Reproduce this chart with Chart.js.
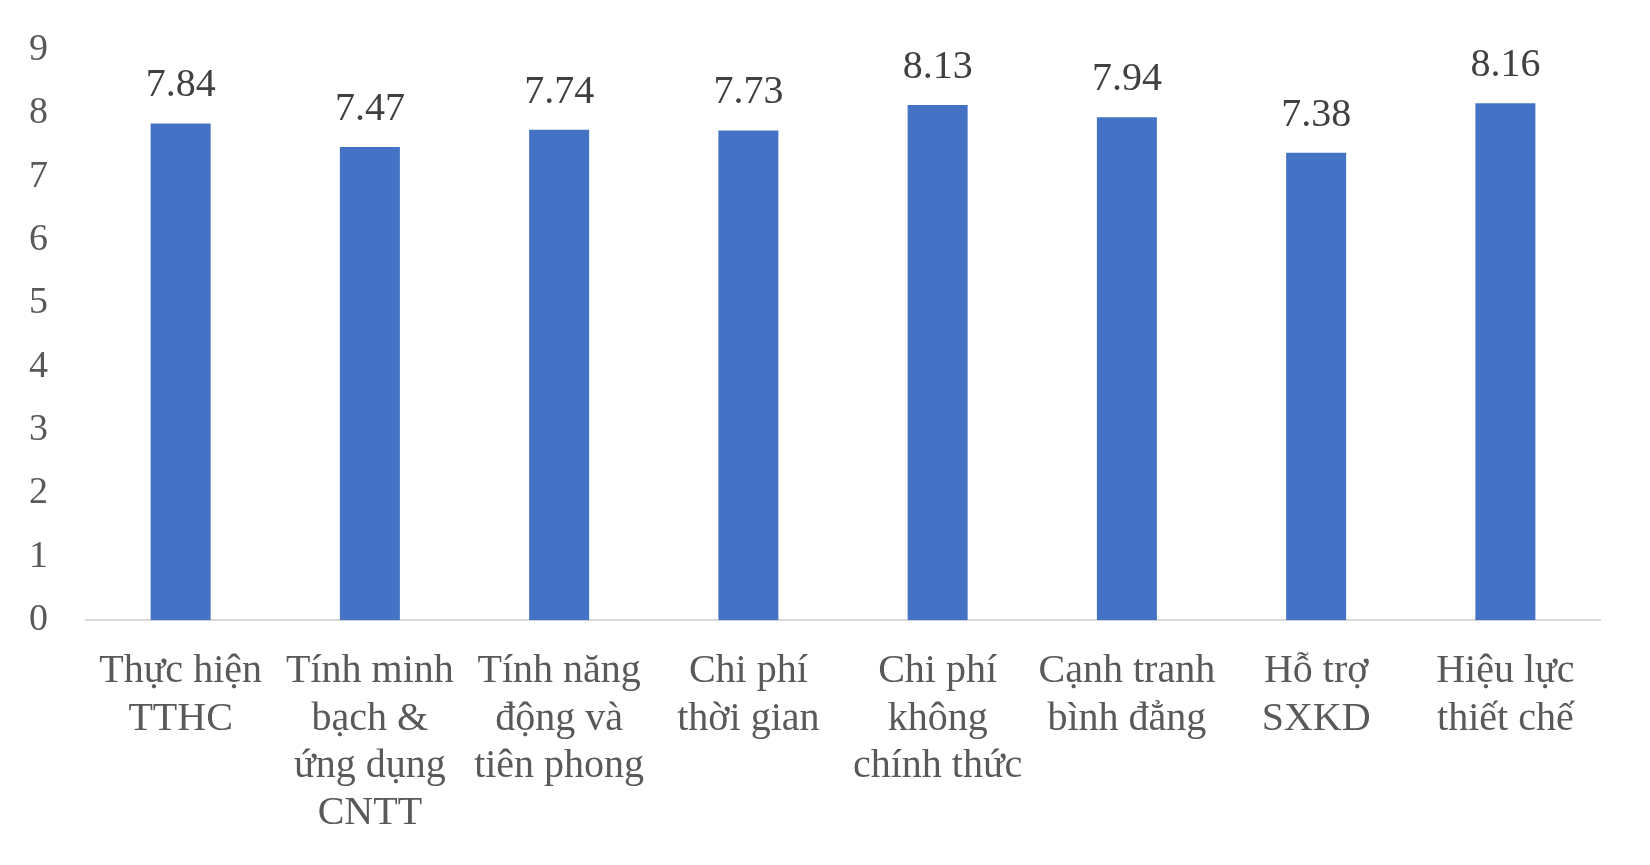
<!DOCTYPE html>
<html>
<head>
<meta charset="utf-8">
<script src="https://cdn.jsdelivr.net/npm/chart.js@4/dist/chart.umd.min.js"></script>
<style>
  html, body { margin: 0; padding: 0; background: #fff; }
  #wrap { width: 1650px; height: 865px; }
</style>
</head>
<body>
<div id="wrap"><canvas id="barchart" width="1650" height="865"></canvas></div>
<script>
// categories (wrapped as in the picture)
const categories = [
  ['Thực hiện', 'TTHC'],
  ['Tính minh', 'bạch &', 'ứng dụng', 'CNTT'],
  ['Tính năng', 'động và', 'tiên phong'],
  ['Chi phí', 'thời gian'],
  ['Chi phí', 'không', 'chính thức'],
  ['Cạnh tranh', 'bình đẳng'],
  ['Hỗ trợ', 'SXKD'],
  ['Hiệu lực', 'thiết chế']
];
const scores = [7.84, 7.47, 7.74, 7.73, 8.13, 7.94, 7.38, 8.16];
const yTicks = [0, 1, 2, 3, 4, 5, 6, 7, 8, 9];

// value labels above bars
const valueLabels = {
  id: 'valueLabels',
  afterDatasetsDraw(chart) {
    const ctx = chart.ctx;
    const meta = chart.getDatasetMeta(0);
    ctx.save();
    ctx.font = '40px "Liberation Serif", "Times New Roman", serif';
    ctx.fillStyle = '#404040';
    ctx.textAlign = 'center';
    ctx.textBaseline = 'alphabetic';
    meta.data.forEach((bar, i) => {
      ctx.fillText(scores[i].toFixed(2), bar.x, bar.y - 27);
    });
    ctx.restore();
  }
};

const ctx = document.getElementById('barchart').getContext('2d');
const barchart = new Chart(ctx, {
  type: 'bar',
  data: {
    labels: categories,
    datasets: [{
      data: scores,
      backgroundColor: '#4472C4',
      categoryPercentage: 1,
      barPercentage: 0.317
    }]
  },
  options: {
    responsive: false,
    animation: false,
    layout: { padding: { top: 50, right: 50, left: 29, bottom: 0 } },
    plugins: { legend: { display: false }, tooltip: { enabled: false } },
    scales: {
      x: {
        grid: { display: false, drawTicks: false },
        border: { display: true, color: '#d9d9d9', width: 2 },
        ticks: {
          autoSkip: false,
          maxRotation: 0,
          minRotation: 0,
          padding: 28,
          color: '#595959',
          font: { family: '"Liberation Serif", "Times New Roman", serif', size: 40, lineHeight: 1.18 }
        }
      },
      y: {
        min: 0,
        max: 9,
        afterFit(scale) { scale.width = 57; },
        afterBuildTicks(scale) { scale.ticks = yTicks.map(v => ({ value: v })); },
        grid: { display: false, drawTicks: false },
        border: { display: false },
        ticks: {
          padding: 0,
          crossAlign: 'far',
          color: '#595959',
          font: { family: '"Liberation Serif", "Times New Roman", serif', size: 38 }
        }
      }
    }
  },
  plugins: [valueLabels]
});
</script>
</body>
</html>
